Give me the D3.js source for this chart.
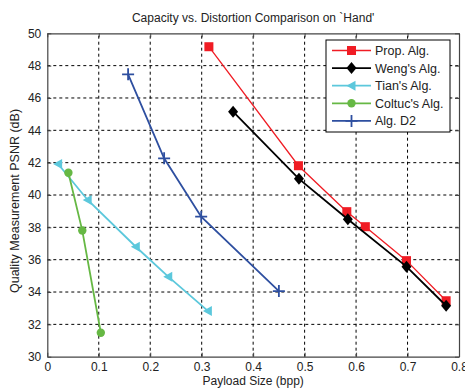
<!DOCTYPE html>
<html>
<head>
<meta charset="utf-8">
<script src="https://cdn.jsdelivr.net/npm/d3@7"></script>
<style>
  body { margin: 0; background: #fff; }
  svg text { font-family: "Liberation Sans", Arial, sans-serif; fill: #222; }
</style>
</head>
<body>
<div id="chart"></div>
<script>
// valeurs
var propX = [0.314, 0.488, 0.582, 0.618, 0.698, 0.775];
var propY = [49.17, 41.81, 38.97, 38.04, 35.94, 33.46];
var wengX = [0.361, 0.489, 0.584, 0.698, 0.775];
var wengY = [45.15, 41.0, 38.5, 35.57, 33.15];
var tianX = [0.021, 0.0785, 0.172, 0.235, 0.312];
var tianY = [41.92, 39.69, 36.8, 34.95, 32.83];
var coltucX = [0.041, 0.068, 0.104];
var coltucY = [41.38, 37.8, 31.48];
var d2X = [0.157, 0.227, 0.299, 0.450];
var d2Y = [47.46, 42.27, 38.66, 34.06];

var seriesNames = ["Prop. Alg.", "Weng's Alg.", "Tian's Alg.", "Coltuc's Alg.", "Alg. D2"];
var xTicks = [0, 0.1, 0.2, 0.3, 0.4, 0.5, 0.6, 0.7, 0.8];
var yTicks = [30, 32, 34, 36, 38, 40, 42, 44, 46, 48, 50];

var series = [
    { name: seriesNames[0], xs: propX, ys: propY, color: "#f01c24", marker: "square", lw: 1.3 },
    { name: seriesNames[1], xs: wengX, ys: wengY, color: "#000000", marker: "diamond", lw: 1.8 },
    { name: seriesNames[2], xs: tianX, ys: tianY, color: "#5cc8dc", marker: "triangle", lw: 1.8 },
    { name: seriesNames[3], xs: coltucX, ys: coltucY, color: "#66b844", marker: "circle", lw: 1.8 },
    { name: seriesNames[4], xs: d2X, ys: d2Y, color: "#2e4fa0", marker: "plus", lw: 1.8 }
];

var width = 465, height = 389;
var margin = { top: 33.3, right: 6, bottom: 32.3, left: 47.3 };

var svg = d3.select("#chart").append("svg")
    .attr("width", width)
    .attr("height", height);

var x = d3.scaleLinear().domain([0, 0.8]).range([margin.left, width - margin.right]);
var y = d3.scaleLinear().domain([30, 50]).range([height - margin.bottom, margin.top]);

// grille pointillée
svg.append("g").selectAll("line")
    .data(xTicks.slice(1, -1))
    .enter().append("line")
    .attr("x1", d => x(d)).attr("x2", d => x(d))
    .attr("y1", y(30)).attr("y2", y(50))
    .attr("stroke", "#000").attr("stroke-width", 1)
    .attr("stroke-dasharray", "3,3");

svg.append("g").selectAll("line")
    .data(yTicks.slice(1, -1))
    .enter().append("line")
    .attr("x1", x(0)).attr("x2", x(0.8))
    .attr("y1", d => y(d)).attr("y2", d => y(d))
    .attr("stroke", "#000").attr("stroke-width", 1)
    .attr("stroke-dasharray", "3,3");

// axes
var fmtX = d => d === 0 ? "0" : d3.format(".1f")(d);
var xAxis = svg.append("g")
    .attr("transform", `translate(0, ${y(30)})`)
    .call(d3.axisBottom(x).tickValues(xTicks).tickFormat(fmtX).tickSizeInner(-4).tickSizeOuter(0).tickPadding(6));
var xAxisTop = svg.append("g")
    .attr("transform", `translate(0, ${y(50)})`)
    .call(d3.axisTop(x).tickValues(xTicks).tickFormat("").tickSizeInner(-4).tickSizeOuter(0));
var yAxis = svg.append("g")
    .attr("transform", `translate(${x(0)}, 0)`)
    .call(d3.axisLeft(y).tickValues(yTicks).tickSizeInner(-4).tickSizeOuter(0).tickPadding(6));
var yAxisRight = svg.append("g")
    .attr("transform", `translate(${x(0.8)}, 0)`)
    .call(d3.axisRight(y).tickValues(yTicks).tickFormat("").tickSizeInner(-4).tickSizeOuter(0));

[xAxis, xAxisTop, yAxis, yAxisRight].forEach(function(g) {
    g.select(".domain").attr("stroke", "#444").attr("stroke-width", 1.2);
    g.selectAll(".tick line").attr("stroke", "#444");
    g.selectAll("text").attr("font-size", 12).attr("fill", "#222")
        .attr("font-family", "'Liberation Sans', Arial, sans-serif");
});

// courbes et marqueurs
var line = d3.line().x(d => x(d[0])).y(d => y(d[1]));

function drawMarker(g, kind, cx, cy, color) {
    if (kind === "square") {
        g.append("rect").attr("x", cx - 4.5).attr("y", cy - 4.5).attr("width", 9).attr("height", 9)
            .attr("fill", color);
    } else if (kind === "diamond") {
        g.append("path").attr("d", `M${cx},${cy - 6}L${cx + 5},${cy}L${cx},${cy + 6}L${cx - 5},${cy}Z`)
            .attr("fill", color);
    } else if (kind === "triangle") {
        g.append("path").attr("d", `M${cx - 5},${cy}L${cx + 4},${cy - 5}L${cx + 4},${cy + 5}Z`)
            .attr("fill", color);
    } else if (kind === "circle") {
        g.append("circle").attr("cx", cx).attr("cy", cy).attr("r", 4.2).attr("fill", color);
    } else if (kind === "plus") {
        g.append("path").attr("d", `M${cx - 6},${cy}H${cx + 6}M${cx},${cy - 6}V${cy + 6}`)
            .attr("stroke", color).attr("stroke-width", 1.8).attr("fill", "none");
    }
}

series.forEach(function(s) {
    var pts = s.xs.map((v, i) => [v, s.ys[i]]);
    var g = svg.append("g");
    g.append("path")
        .datum(pts)
        .attr("d", line)
        .attr("fill", "none")
        .attr("stroke", s.color)
        .attr("stroke-width", s.lw);
    pts.forEach(function(p) {
        drawMarker(g, s.marker, x(p[0]), y(p[1]), s.color);
    });
});

// légende
var legend = svg.append("g").attr("transform", "translate(326, 40)");
legend.append("rect")
    .attr("width", 124).attr("height", 92)
    .attr("fill", "#fff").attr("stroke", "#000").attr("stroke-width", 1);
series.forEach(function(s, i) {
    var ly = 10.5 + i * 17.6;
    legend.append("line")
        .attr("x1", 6).attr("x2", 45).attr("y1", ly).attr("y2", ly)
        .attr("stroke", s.color).attr("stroke-width", s.lw);
    drawMarker(legend, s.marker, 25.5, ly, s.color);
    legend.append("text")
        .attr("x", 49).attr("y", ly + 4.5)
        .attr("font-size", 12.5)
        .text(s.name);
});

// titres
svg.append("text")
    .attr("x", (x(0) + x(0.8)) / 2).attr("y", 22)
    .attr("text-anchor", "middle").attr("font-size", 12)
    .text("Capacity vs. Distortion Comparison on `Hand'");

svg.append("text")
    .attr("x", (x(0) + x(0.8)) / 2).attr("y", 385)
    .attr("text-anchor", "middle").attr("font-size", 12)
    .text("Payload Size (bpp)");

svg.append("text")
    .attr("transform", `translate(19, ${(y(30) + y(50)) / 2 + 6}) rotate(-90)`)
    .attr("text-anchor", "middle").attr("font-size", 12.5)
    .text("Quality Measurement PSNR (dB)");
</script>
</body>
</html>
